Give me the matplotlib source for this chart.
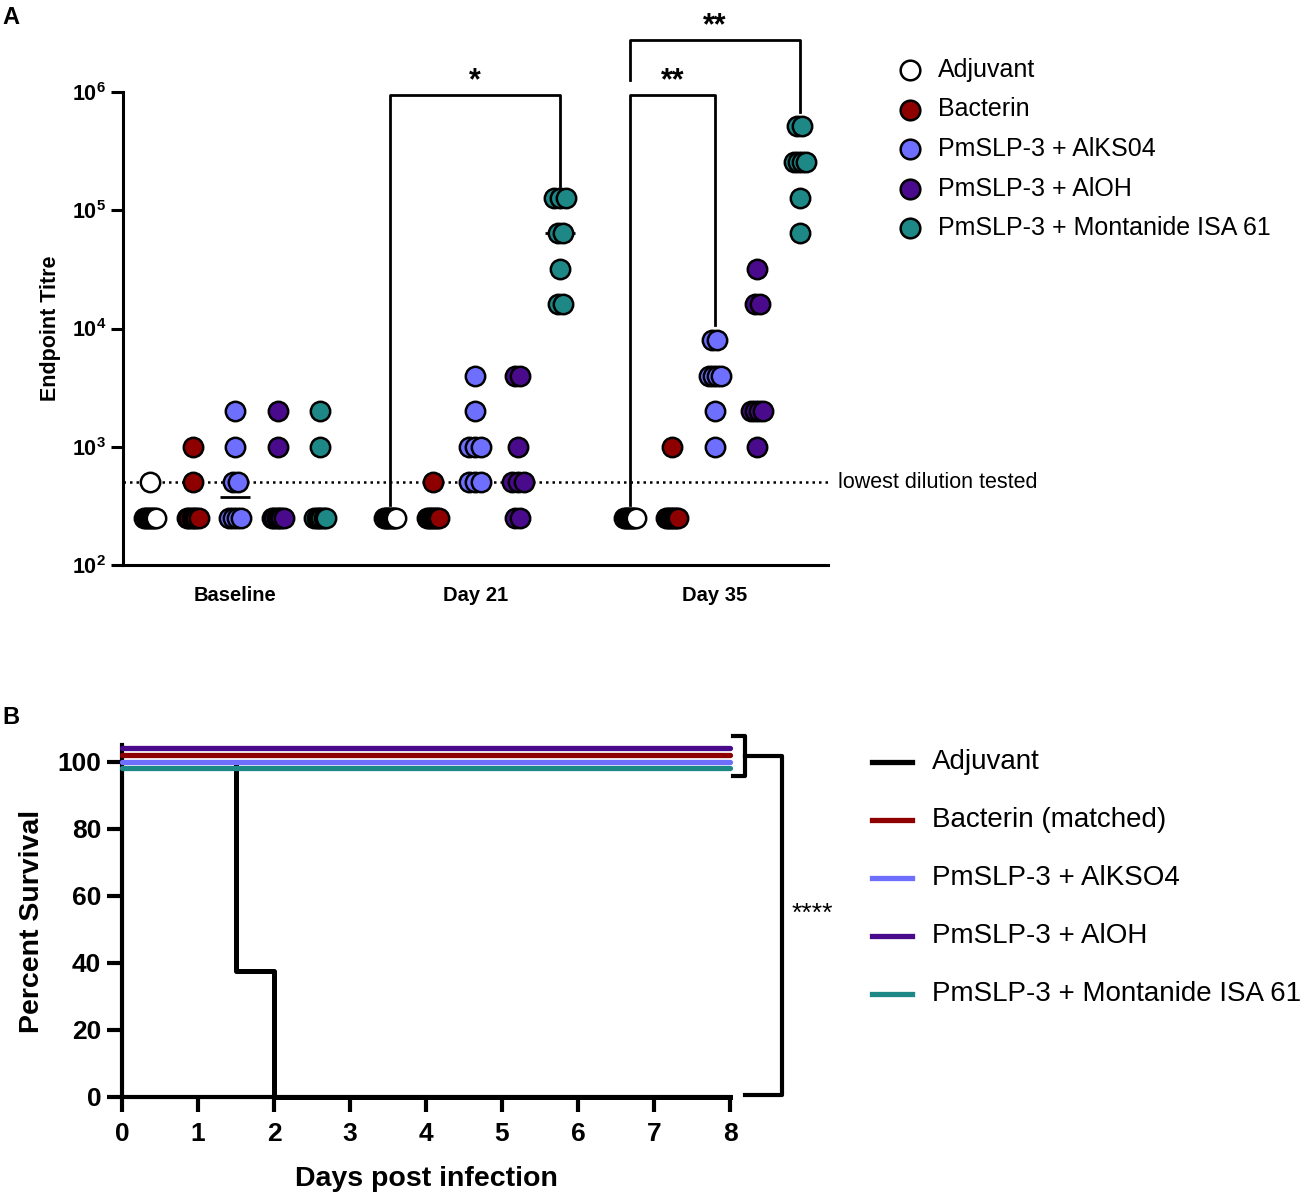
import numpy as np
import matplotlib
matplotlib.use('Agg')
import matplotlib.pyplot as plt

plt.rcParams['font.family'] = ['Liberation Sans', 'DejaVu Sans']
plt.rcParams['mathtext.fontset'] = 'custom'
plt.rcParams['mathtext.bf'] = 'Liberation Sans:bold'
plt.rcParams['mathtext.rm'] = 'Liberation Sans'

# ---- data ----
groups_a = ['Adjuvant', 'Bacterin', 'PmSLP-3 + AlKS04', 'PmSLP-3 + AlOH', 'PmSLP-3 + Montanide ISA 61']
groups_b = ['Adjuvant', 'Bacterin (matched)', 'PmSLP-3 + AlKSO4', 'PmSLP-3 + AlOH', 'PmSLP-3 + Montanide ISA 61']
colors_a = ['#FFFFFF', '#8E0000', '#6E6EFF', '#4A0A8C', '#1E8886']
colors_b = ['#000000', '#8E0000', '#6E6EFF', '#4A0A8C', '#1E8886']
timepoints = ['Baseline', 'Day 21', 'Day 35']

# endpoint titres, 8 animals per group
baseline = [
    [500, 250, 250, 250, 250, 250, 250, 250],
    [1000, 500, 250, 250, 250, 250, 250, 250],
    [2000, 1000, 500, 500, 250, 250, 250, 250],
    [2000, 1000, 250, 250, 250, 250, 250, 250],
    [2000, 1000, 250, 250, 250, 250, 250, 250],
]
day21 = [
    [250, 250, 250, 250, 250, 250, 250, 250],
    [500, 250, 250, 250, 250, 250, 250, 250],
    [4000, 2000, 1000, 1000, 1000, 500, 500, 500],
    [4000, 4000, 1000, 500, 500, 500, 250, 250],
    [128000, 128000, 128000, 64000, 64000, 32000, 16000, 16000],
]
day35 = [
    [250, 250, 250, 250, 250, 250, 250, 250],
    [1000, 250, 250, 250, 250, 250, 250, 250],
    [8000, 8000, 4000, 4000, 4000, 4000, 2000, 1000],
    [32000, 16000, 16000, 2000, 2000, 2000, 2000, 1000],
    [512000, 512000, 256000, 256000, 256000, 256000, 128000, 64000],
]
lowest_dilution = 500

# survival (percent) over days post infection
adj_days = [0, 1.5, 2, 8]
adj_surv = [100, 37.5, 0, 0]
vacc_days = [0, 8]
vacc_surv = [100, 100]
surv_offset = [0, 2, 0, 4, -2]   # display offsets so overlapping curves stay visible


def pos(t, j):
    return t * 5.64 + j


fig = plt.figure(figsize=(13.12, 12.01), dpi=100)

# ---------------- panel A ----------------
axA = fig.add_axes([123 / 1312, 1 - 565 / 1201, 705 / 1312, 473 / 1201])
axA.set_yscale('log')

for t, data in enumerate([baseline, day21, day35]):
    for j, vals in enumerate(data):
        vals = np.array(vals)
        x0 = pos(t, j)
        axA.hlines(np.median(vals), x0 - 0.35, x0 + 0.35, color='black', lw=2, zorder=2)
        for v in sorted(set(vals)):
            k = int((vals == v).sum())
            w = 0.0 if k == 1 else (0.06 if k == 2 else 0.14)
            xs = x0 + np.linspace(-w, w, k)
            axA.scatter(xs, [v] * k, s=195, color=colors_a[j], edgecolor='black',
                        linewidths=1.8, zorder=3, clip_on=False)

axA.axhline(lowest_dilution, color='black', lw=1.8, ls=(0, (1, 1.6)), zorder=1)
axA.text(pos(2, 4) + 0.9, lowest_dilution, 'lowest dilution tested', fontsize=15.5,
         va='center', ha='left')

axA.set_xlim(-0.64, pos(2, 4) + 0.66)
axA.set_ylim(100, 1e6)
axA.set_yticks([1e2, 1e3, 1e4, 1e5, 1e6])
axA.set_yticklabels([r'$\mathbf{10^{%d}}$' % e for e in range(2, 7)], fontsize=15.5)
axA.minorticks_off()
axA.set_xticks([pos(t, 2) for t in range(3)])
axA.set_xticklabels(timepoints, fontsize=14.5, fontweight='bold')
axA.tick_params(axis='x', length=0, pad=15)
axA.tick_params(axis='y', length=9, width=2.2, pad=3)
for s in ['top', 'right']:
    axA.spines[s].set_visible(False)
for s in ['left', 'bottom']:
    axA.spines[s].set_linewidth(2.2)
axA.set_ylabel('Endpoint Titre', fontsize=15.5, fontweight='bold', va='center')
axA.yaxis.set_label_coords(-0.1035, 0.5)


# significance brackets
def bracket(ax, x1, x2, ytop, y1, y2):
    ax.plot([x1, x1, x2, x2], [y1, ytop, ytop, y2], color='black', lw=2, clip_on=False)


bracket(axA, pos(1, 0), pos(1, 4), 9.4e5, 320, 1.6e5)
axA.text(pos(1, 2), 1.24e6, '*', fontsize=22, fontweight='bold', ha='center', va='center')
bracket(axA, pos(2, 0), pos(2, 2), 9.4e5, 320, 1.07e4)
axA.text(pos(2, 1), 1.24e6, '**', fontsize=22, fontweight='bold', ha='center', va='center')
bracket(axA, pos(2, 0), pos(2, 4), 2.74e6, 1.26e6, 6.8e5)
axA.text(pos(2, 2), 3.6e6, '**', fontsize=22, fontweight='bold', ha='center', va='center')

# ---------------- panel B ----------------
axB = fig.add_axes([122 / 1312, 1 - 1097 / 1201, 608 / 1312, 352 / 1201])
axB.plot(adj_days, np.array(adj_surv) + surv_offset[0], drawstyle='steps-post',
         color=colors_b[0], lw=3.6, zorder=3, clip_on=False)
for j in [3, 1, 2, 4]:
    axB.plot(vacc_days, np.array(vacc_surv) + surv_offset[j], color=colors_b[j], lw=3.8,
             solid_capstyle='round', zorder=4, clip_on=False)

axB.set_xlim(0, 8)
axB.set_ylim(0, 105)
axB.set_xticks(range(0, 9))
axB.set_yticks(range(0, 101, 20))
axB.tick_params(length=11, width=3, labelsize=19)
axB.tick_params(axis='x', pad=7)
axB.tick_params(axis='y', pad=4)
for lab in axB.get_xticklabels() + axB.get_yticklabels():
    lab.set_fontweight('bold')
for s in ['top', 'right']:
    axB.spines[s].set_visible(False)
for s in ['left', 'bottom']:
    axB.spines[s].set_linewidth(3)
axB.set_xlabel('Days post infection', fontsize=20.5, fontweight='bold', va='center')
axB.xaxis.set_label_coords(0.5, -0.232)
axB.set_ylabel('Percent Survival', fontsize=20.5, fontweight='bold', va='center')
axB.yaxis.set_label_coords(-0.148, 0.5)

axB.plot([8.04, 8.2, 8.2, 8.04], [107.8, 107.8, 95.8, 95.8], color='black', lw=3, clip_on=False)
axB.plot([8.2, 8.68, 8.68, 8.2], [101.8, 101.8, 0.6, 0.6], color='black', lw=3, clip_on=False)
axB.text(9.08, 54.6, '****', fontsize=19, ha='center', va='center')

# ---------------- legends and panel letters (pixel overlay) ----------------
ov = fig.add_axes([0, 0, 1, 1], facecolor='none')
ov.set_xlim(0, 1312)
ov.set_ylim(1201, 0)
ov.axis('off')

for i, (name, c) in enumerate(zip(groups_a, colors_a)):
    y = 70 + i * 39.5
    ov.scatter([910], [y], s=200, color=c, edgecolor='black', linewidths=1.8)
    ov.text(938, y, name, fontsize=18, va='center', ha='left')

for i, (name, c) in enumerate(zip(groups_b, colors_b)):
    y = 762 + i * 58
    ov.plot([872, 912], [y, y], color=c, lw=3.8)
    ov.text(932, y, name, fontsize=20, va='center', ha='left')

ov.text(2, 18, 'A', fontsize=17, fontweight='bold', va='center')
ov.text(2, 717, 'B', fontsize=17, fontweight='bold', va='center')

fig.savefig('out.png', dpi=100)
